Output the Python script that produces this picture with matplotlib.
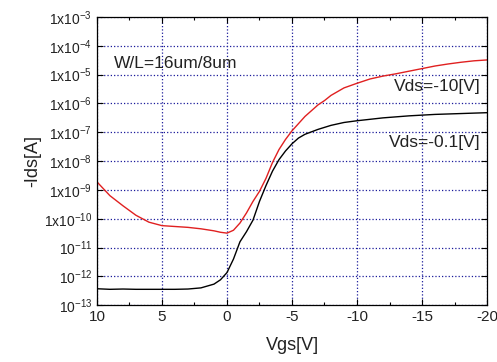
import numpy as np
from matplotlib import pyplot as plt
from matplotlib.ticker import FixedLocator, LogLocator, NullFormatter, MultipleLocator

plt.rcParams['font.family'] = ['Liberation Sans', 'DejaVu Sans']
plt.rcParams['mathtext.default'] = 'regular'

# Vgs sweep [V] and log10(-Ids)
vgs_red = [10, 9, 8, 7, 6, 5, 4, 3, 2, 1, 0.5, 0, -0.5, -1, -1.5, -2, -2.5,
           -3, -3.5, -4, -4.5, -5, -5.5, -6, -6.5, -7, -7.5, -8, -9, -10,
           -11, -12, -13, -14, -15, -16, -17, -18, -19, -20]
log_red = [-8.72, -9.2, -9.55, -9.88, -10.12, -10.24, -10.27, -10.3, -10.35,
           -10.42, -10.47, -10.5, -10.4, -10.15, -9.8, -9.4, -9.05, -8.6,
           -8.05, -7.6, -7.25, -6.95, -6.7, -6.45, -6.25, -6.05, -5.9, -5.72,
           -5.46, -5.3, -5.15, -5.05, -4.97, -4.88, -4.79, -4.7, -4.63, -4.57,
           -4.52, -4.49]

vgs_blk = [10, 9, 8, 7, 6, 5, 4, 3, 2, 1, 0.5, 0, -0.5, -1, -1.5, -2, -2.5,
           -3, -3.5, -4, -4.5, -5, -5.5, -6, -7, -8, -9, -10, -12, -14, -16,
           -18, -20]
log_blk = [-12.43, -12.45, -12.44, -12.45, -12.45, -12.45, -12.45, -12.44,
           -12.4, -12.27, -12.12, -11.87, -11.4, -10.8, -10.45, -10.05, -9.4,
           -8.85, -8.35, -7.95, -7.65, -7.4, -7.2, -7.07, -6.9, -6.76, -6.66,
           -6.6, -6.5, -6.43, -6.38, -6.35, -6.32]

x_ticks = [10, 5, 0, -5, -10, -15, -20]
y_exps = list(range(-13, -2))
y_labels = ['$10^{%d}$' % e if e <= -11 else '1x10$^{%d}$' % e for e in y_exps]


def main():
    fig = plt.figure(figsize=(4.97, 3.62), dpi=100)
    ax = fig.add_axes([0.195, 0.157, 0.785, 0.796])

    ax.semilogy(vgs_red, 10.0 ** np.array(log_red), color='#e02020', lw=1.0)
    ax.semilogy(vgs_blk, 10.0 ** np.array(log_blk), color='black', lw=1.0)

    ax.set_xlim(10, -20)
    ax.set_ylim(1e-13, 1e-3)
    ax.xaxis.set_major_locator(FixedLocator(x_ticks))
    ax.xaxis.set_minor_locator(MultipleLocator(2.5))
    ax.set_xticklabels([str(v) for v in x_ticks])
    ax.yaxis.set_major_locator(FixedLocator([10.0 ** e for e in y_exps]))
    ax.set_yticklabels(y_labels)
    ax.yaxis.set_minor_locator(LogLocator(base=10, subs=np.arange(2, 10)))
    ax.yaxis.set_minor_formatter(NullFormatter())

    ax.tick_params(which='both', direction='in', top=True, right=True,
                   labelcolor='#222222', width=0.8)
    ax.tick_params(axis='x', labelsize=11)
    ax.tick_params(axis='y', labelsize=10)
    ax.tick_params(which='major', length=4)
    ax.tick_params(which='minor', length=2)
    ax.grid(True, which='major', linestyle=':', color='#1a1a9a', lw=0.9)
    for s in ax.spines.values():
        s.set_linewidth(0.9)

    ax.set_xlabel('Vgs[V]', fontsize=13, color='#222222', labelpad=9)
    ax.set_ylabel('-Ids[A]', fontsize=13, color='#222222', labelpad=2)

    ax.text(8.7, 10 ** -4.6, 'W/L=16um/8um', fontsize=12.5, color='#222222',
            va='center', ha='left')
    ax.text(-19.5, 10 ** -5.4, 'Vds=-10[V]', fontsize=12.5, color='#222222',
            va='center', ha='right')
    ax.text(-19.5, 10 ** -7.35, 'Vds=-0.1[V]', fontsize=12.5, color='#222222',
            va='center', ha='right')

    fig.savefig('out.png', dpi=100)


if __name__ == '__main__':
    main()
